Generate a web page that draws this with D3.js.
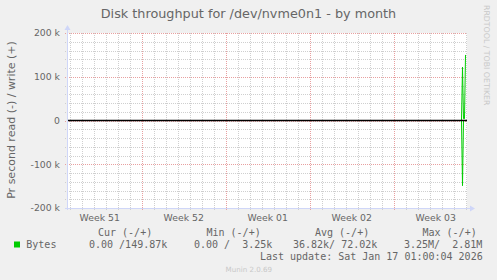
<!DOCTYPE html>
<html>
<head>
<meta charset="utf-8">
<script src="https://cdn.jsdelivr.net/npm/d3@7"></script>
<style>
  body { margin: 0; background: #f0f0f0; }
  svg { display: block; }
  text { fill: #666; font-family: "DejaVu Sans", sans-serif; }
  .mono { font-family: "DejaVu Sans Mono", monospace; white-space: pre; }
</style>
</head>
<body>
<div id="chart"></div>
<script>
// series, sampled every 2 hours near the end of the period (UTC)
const times = ["2025-12-15T18:36:00Z", "2026-01-17T15:36:00Z", "2026-01-17T17:36:00Z",
               "2026-01-17T19:36:00Z", "2026-01-17T21:36:00Z", "2026-01-17T23:36:00Z"]
const readBytes = [0, 0, 149000, 0, 0, 0]
const writeBytes = [0, 0, 122000, 4000, 4000, 149870]

const yTicks = [-200000, -100000, 0, 100000, 200000]
const yTickLabels = ["-200 k", "-100 k", "0", "100 k", "200 k"]

const legendHeaders = ["Cur (-/+)", "Min (-/+)", "Avg (-/+)", "Max (-/+)"]
const legendValues = ["0.00 /149.87k", "0.00 /  3.25k", "36.82k/ 72.02k", "3.25M/  2.81M"]
const seriesName = "Bytes"
const lastUpdate = "Last update: Sat Jan 17 01:00:04 2026"

const W = 497, H = 280
const plot = {left: 67, right: 467, top: 33, bottom: 208}

const svg = d3.select("#chart").append("svg")
    .attr("width", W)
    .attr("height", H)

svg.append("rect").attr("width", W).attr("height", H).attr("fill", "#f0f0f0")
svg.append("rect")
    .attr("x", plot.left).attr("y", plot.top)
    .attr("width", plot.right - plot.left).attr("height", plot.bottom - plot.top)
    .attr("fill", "#ffffff")

const x = d3.scaleUtc()
    .domain([new Date("2025-12-15T18:36:00Z"), new Date("2026-01-18T02:36:00Z")])
    .range([plot.left, plot.right])

const y = d3.scaleLinear()
    .domain([-200000, 200000])
    .range([plot.bottom, plot.top])

const grid = svg.append("g").attr("shape-rendering", "crispEdges")

// minor grid: days and 20k steps
grid.selectAll("line.vminor")
    .data(x.ticks(d3.utcDay))
    .enter().append("line")
    .attr("x1", d => Math.round(x(d)) + 0.5).attr("x2", d => Math.round(x(d)) + 0.5)
    .attr("y1", plot.top).attr("y2", plot.bottom + 2)
    .attr("stroke", "#cfcfcf").attr("stroke-dasharray", "1,1")

grid.selectAll("line.hminor")
    .data(d3.range(-200000, 200001, 20000))
    .enter().append("line")
    .attr("y1", d => Math.round(y(d)) + 0.5).attr("y2", d => Math.round(y(d)) + 0.5)
    .attr("x1", plot.left - 2).attr("x2", plot.right)
    .attr("stroke", "#cfcfcf").attr("stroke-dasharray", "1,1")

// major grid: weeks and 100k steps
const weeks = x.ticks(d3.utcMonday)
grid.selectAll("line.vmajor")
    .data(weeks)
    .enter().append("line")
    .attr("x1", d => Math.round(x(d)) + 0.5).attr("x2", d => Math.round(x(d)) + 0.5)
    .attr("y1", plot.top).attr("y2", plot.bottom + 2)
    .attr("stroke", "#e8a0a0").attr("stroke-dasharray", "1,1")

grid.selectAll("line.hmajor")
    .data(yTicks)
    .enter().append("line")
    .attr("y1", d => Math.round(y(d)) + 0.5).attr("y2", d => Math.round(y(d)) + 0.5)
    .attr("x1", plot.left - 2).attr("x2", plot.right)
    .attr("stroke", "#e8a0a0").attr("stroke-dasharray", "1,1")

// y tick labels
svg.selectAll("text.ytick")
    .data(yTicks)
    .enter().append("text")
    .attr("x", 60)
    .attr("y", d => y(d) + 3.4)
    .attr("text-anchor", "end")
    .attr("font-size", "9.3px")
    .text((d, i) => yTickLabels[i])

// week labels, centred in the week
const fmtWeek = d3.utcFormat("Week %V")
const weekStarts = d3.utcMonday.range(d3.utcMonday.floor(x.domain()[0]), x.domain()[1])
svg.selectAll("text.xtick")
    .data(weekStarts)
    .enter().append("text")
    .attr("x", d => x(new Date(+d + 3.5 * 864e5)))
    .attr("y", 220.5)
    .attr("text-anchor", "middle")
    .attr("font-size", "9.3px")
    .text(d => fmtWeek(d))

// data lines
const pts = times.map((t, i) => ({t: new Date(t), r: -readBytes[i], w: writeBytes[i]}))
const lineW = d3.line().x(d => x(d.t)).y(d => y(d.w))
const lineR = d3.line().x(d => x(d.t)).y(d => y(d.r))
svg.append("path").attr("d", lineR(pts)).attr("fill", "none").attr("stroke", "#00cc00").attr("stroke-width", 1)
svg.append("path").attr("d", lineW(pts)).attr("fill", "none").attr("stroke", "#00cc00").attr("stroke-width", 1)

// zero line
svg.append("line")
    .attr("x1", plot.left).attr("x2", plot.right)
    .attr("y1", y(0)).attr("y2", y(0))
    .attr("stroke", "#000").attr("stroke-width", 1.3)

// axes with arrows
const axisColor = "#cfd6f8"
svg.append("line")
    .attr("x1", plot.left + 0.5).attr("x2", plot.left + 0.5)
    .attr("y1", plot.bottom + 2).attr("y2", plot.top - 4)
    .attr("stroke", axisColor)
svg.append("line")
    .attr("x1", plot.left - 2).attr("x2", plot.right + 4)
    .attr("y1", plot.bottom + 0.5).attr("y2", plot.bottom + 0.5)
    .attr("stroke", axisColor)
svg.append("path")
    .attr("d", `M${plot.left - 2.5},${plot.top - 3}L${plot.left + 3.5},${plot.top - 3}L${plot.left + 0.5},${plot.top - 8}Z`)
    .attr("fill", axisColor)
svg.append("path")
    .attr("d", `M${plot.right + 3},${plot.bottom - 2.5}L${plot.right + 3},${plot.bottom + 3.5}L${plot.right + 8},${plot.bottom + 0.5}Z`)
    .attr("fill", axisColor)

// title
svg.append("text")
    .attr("x", 248.5).attr("y", 18.3)
    .attr("text-anchor", "middle")
    .attr("font-size", "12.8px")
    .text("Disk throughput for /dev/nvme0n1 - by month")

// vertical label
svg.append("text")
    .attr("transform", "translate(15,120) rotate(-90)")
    .attr("text-anchor", "middle")
    .attr("font-size", "11px")
    .text("Pr second read (-) / write (+)")

// watermarks
svg.append("text")
    .attr("transform", "translate(484,5) rotate(90)")
    .attr("font-size", "7.8px")
    .style("fill", "#c8c8c8")
    .text("RRDTOOL / TOBI OETIKER")

svg.append("text")
    .attr("x", 248.8).attr("y", 271.5)
    .attr("text-anchor", "middle")
    .attr("font-size", "7.1px")
    .style("fill", "#c8c8c8")
    .text("Munin 2.0.69")

// legend
const headX = [98, 206.5, 315, 422.5]
const valX = [89, 194, 293, 404]
svg.selectAll("text.lhead")
    .data(legendHeaders)
    .enter().append("text")
    .attr("class", "mono")
    .attr("x", (d, i) => headX[i]).attr("y", 236)
    .attr("font-size", "10px")
    .text(d => d)

svg.append("rect")
    .attr("x", 14).attr("y", 241.5).attr("width", 6).attr("height", 6)
    .attr("fill", "#00cc00")
svg.append("text")
    .attr("class", "mono")
    .attr("x", 26.3).attr("y", 248)
    .attr("font-size", "10px")
    .text(seriesName)

svg.selectAll("text.lval")
    .data(legendValues)
    .enter().append("text")
    .attr("class", "mono")
    .attr("x", (d, i) => valX[i]).attr("y", 248)
    .attr("font-size", "10px")
    .text(d => d)

svg.append("text")
    .attr("class", "mono")
    .attr("x", 482.7).attr("y", 260)
    .attr("text-anchor", "end")
    .attr("font-size", "10px")
    .text(lastUpdate)
</script>
</body>
</html>
